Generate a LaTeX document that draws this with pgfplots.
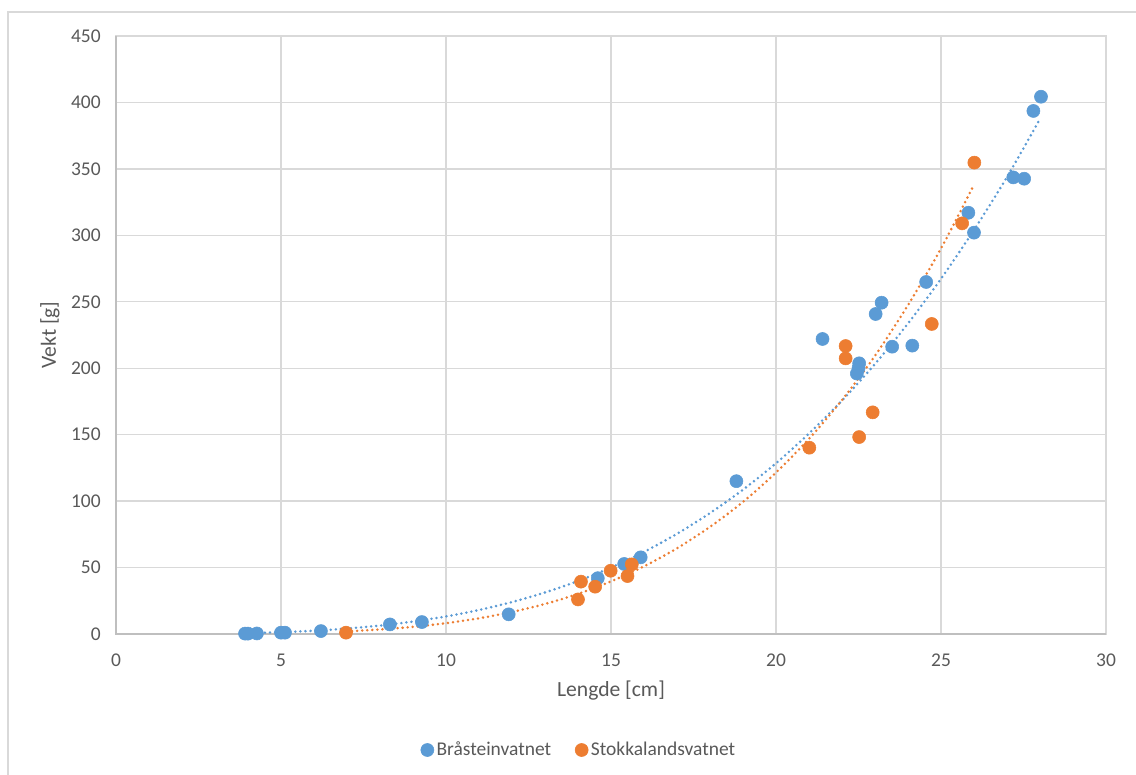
\documentclass[border=0pt]{standalone}
\usepackage{pgfplots}
\pgfplotsset{compat=1.18}
\usepackage{fontspec}
\setmainfont{Carlito}
\definecolor{cblue}{HTML}{5B9BD5}
\definecolor{corange}{HTML}{ED7D31}
\definecolor{cgrid}{HTML}{D9D9D9}
\definecolor{caxis}{HTML}{BFBFBF}
\definecolor{ctext}{HTML}{595959}
\begin{document}
\begin{tikzpicture}
\useasboundingbox (0,0) rectangle (852pt,581.25pt);
\fill[white] (0,0) rectangle (852pt,581.25pt);
\draw[cgrid,line width=0.9pt] (6pt,0) -- (6pt,572.25pt) -- (852pt,572.25pt);
\begin{axis}[
  at={(87pt,105.75pt)}, anchor=south west,
  scale only axis, width=742.5pt, height=448.5pt,
  xmin=0, xmax=30, ymin=0, ymax=450,
  xtick={0,5,...,30}, ytick={0,50,...,450},
  major tick length=0pt,
  grid=major,
  major grid style={cgrid,line width=1pt},
  axis line style={cgrid,line width=1pt},
  /pgf/number format/assume math mode=true,
  tick label style={font=\fontsize{14.6}{16}\selectfont, text=ctext},
  xticklabel style={anchor=center, yshift=-19.5pt},
  yticklabel style={anchor=east, xshift=-8pt},
  xlabel={Lengde [cm]}, ylabel={Vekt [g]},
  label style={font=\fontsize{16.2}{18}\selectfont, text=ctext},
  xlabel style={at={(axis description cs:0.5,-0.0953)}, anchor=center},
  ylabel style={at={(axis description cs:-0.0667,0.5)}, anchor=center, rotate=0},
  legend style={at={(0.468,-0.194)}, anchor=center, draw=none, fill=none,
    font=\fontsize{14.6}{16}\selectfont, text=ctext, legend columns=2,
    /tikz/every even column/.append style={column sep=16pt}},
  legend cell align=left,
  clip=false,
]
\draw[caxis,line width=1pt] (axis cs:0,450) -- (axis cs:0,0) -- (axis cs:30,0);
% trendlines
\addplot[forget plot, cblue, line width=2.1pt, line cap=round, dash pattern=on 0pt off 3.8pt, smooth]
 coordinates {(3.9,0.60)(5,1.36)(6,2.48)(7,4.11)(8,6.36)(9,9.36)(10,13.22)(11,18.07)(12,24.03)(13,31.25)(14,39.85)(15,50.0)(16,61.8)(17,75.4)(18,91.0)(19,108.6)(20,128.5)(21,150.9)(22,175.7)(23,203.2)(24,233.7)(25,267.3)(26,304.1)(27,343.9)(28,387.6)};
\addplot[forget plot, corange, line width=2.1pt, line cap=round, dash pattern=on 0pt off 3.8pt, smooth]
 coordinates {(7,2.02)(8,3.41)(9,5.39)(10,8.13)(11,11.8)(12,16.6)(13,22.6)(14,30.2)(15,39.6)(16,50.9)(17,64.5)(18,80.6)(19,99.4)(20,121.5)(21,146.9)(22,176.1)(23,209.4)(24,247.5)(25,290.1)(26,338.1)};
% data
\addplot[only marks, mark=*, mark size=4.9pt, color=cblue, mark options={fill=cblue, draw=cblue}]
 coordinates {(3.91,0.3)(4.0,0.3)(4.27,0.4)(5.0,1)(5.12,1)(6.21,2.2)(8.3,7.2)(9.27,9.0)(11.9,14.8)(14.6,42)(15.4,52.7)(15.9,57.7)(18.8,115)(21.41,222)(22.45,196)(22.5,200)(22.52,203.7)(23.02,240.8)(23.2,249.3)(23.52,216.2)(24.13,217)(24.55,264.9)(25.83,317)(26.0,302)(27.19,343.6)(27.52,342.6)(27.8,393.6)(28.03,404.3)};
\addlegendentry{Bråsteinvatnet}
\addplot[only marks, mark=*, mark size=4.9pt, color=corange, mark options={fill=corange, draw=corange}]
 coordinates {(6.97,1)(14.0,26)(14.09,39.4)(14.52,35.6)(14.99,47.6)(15.5,43.6)(15.63,52.4)(21.01,140.2)(22.11,216.7)(22.11,207.4)(22.52,148.2)(22.93,166.8)(24.72,233.3)(25.64,309)(26.01,354.7)};
\addlegendentry{Stokkalandsvatnet}
\end{axis}
\end{tikzpicture}
\end{document}
